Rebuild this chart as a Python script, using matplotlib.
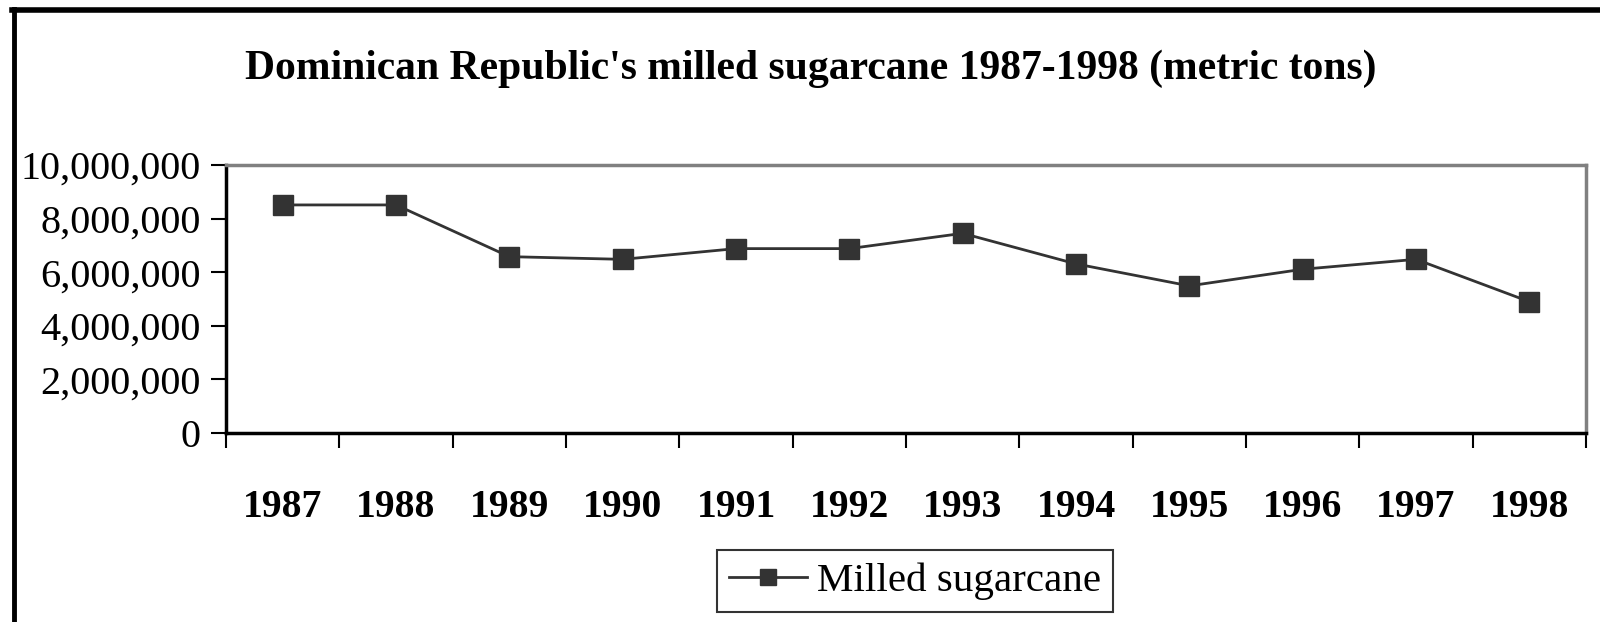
import matplotlib
matplotlib.use("Agg")
import matplotlib.pyplot as plt
from matplotlib.lines import Line2D
from matplotlib.ticker import FuncFormatter, FixedLocator
import numpy as np

# data
years = ["1987", "1988", "1989", "1990", "1991", "1992",
         "1993", "1994", "1995", "1996", "1997", "1998"]
milled = [8510000, 8510000, 6580000, 6480000, 6880000, 6880000,
          7450000, 6310000, 5490000, 6110000, 6480000, 4900000]

title = "Dominican Republic's milled sugarcane 1987-1998 (metric tons)"
series_name = "Milled sugarcane"

plt.rcParams['font.family'] = ['Liberation Serif', 'DejaVu Serif']

W, H = 1600, 622
fig = plt.figure(figsize=(W / 100, H / 100), dpi=100)

# plot area in pixel coords
left, right, top, bottom = 226, 1586, 165, 433
ax = fig.add_axes([left / W, 1 - bottom / H, (right - left) / W, (bottom - top) / H])

x = np.arange(len(years))
ax.plot(x, milled, color='#333333', linewidth=2, marker='s',
        markersize=14, markerfacecolor='#333333', markeredgecolor='#333333',
        label=series_name)

ax.set_xlim(-0.5, len(years) - 0.5)
ax.set_ylim(0, 10000000)
ax.yaxis.set_major_locator(FixedLocator(np.arange(0, 10000001, 2000000)))
ax.yaxis.set_major_formatter(FuncFormatter(lambda v, p: f"{int(v):,}"))

# category labels in the middle, tick marks on the boundaries
ax.set_xticks(x)
ax.set_xticklabels(years, fontweight='bold', fontsize=28.5)
ax.tick_params(axis='x', which='major', length=0, pad=40)
ax.set_xticks(np.arange(-0.5, len(years), 1), minor=True)
ax.tick_params(axis='x', which='minor', length=11, width=1.5, direction='out', color='black')
ax.tick_params(axis='y', labelsize=29, length=11, width=1.5, direction='out', pad=7)

for s in ['top', 'right']:
    ax.spines[s].set_color('#808080')
    ax.spines[s].set_linewidth(2.5)
for s in ['left', 'bottom']:
    ax.spines[s].set_color('black')
    ax.spines[s].set_linewidth(2.5)

fig.text(811 / W, 1 - 69 / H, title, ha='center', va='center',
         fontsize=30, fontweight='bold')

leg = fig.legend(loc='center', bbox_to_anchor=(915 / W, 1 - 581 / H),
                 fontsize=29.5, frameon=True, fancybox=False, handlelength=1.9,
                 borderpad=0.3, handletextpad=0.25, markerscale=0.85)
leg.get_frame().set_edgecolor('black')
leg.get_frame().set_linewidth(1.5)

# black frame around the figure (only top and left are visible)
fig.add_artist(Line2D([13.5 / W, 13.5 / W], [0, 1 - 9 / H], transform=fig.transFigure,
                      color='black', linewidth=3.5))
fig.add_artist(Line2D([12 / W, 1], [1 - 9.5 / H, 1 - 9.5 / H], transform=fig.transFigure,
                      color='black', linewidth=4))

fig.savefig("out.png", dpi=100)
